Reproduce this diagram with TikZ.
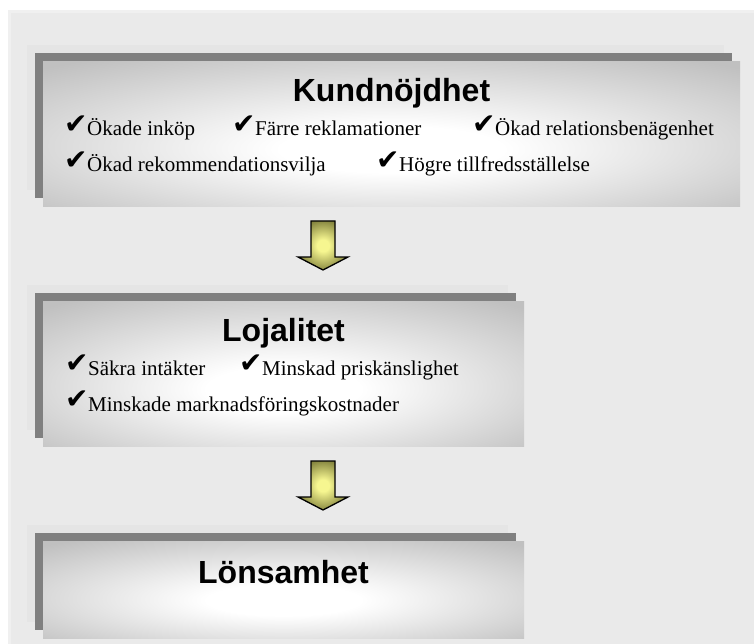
\documentclass[tikz,border=0pt]{standalone}
\usepackage{fontspec}
\setmainfont{Liberation Serif}
\newfontfamily\headfont{Liberation Sans}
\newfontfamily\symfont{DejaVu Sans}

\definecolor{bgedge}{HTML}{F0F0F0}
\definecolor{bggray}{HTML}{EAEAEA}
\definecolor{bandgray}{HTML}{E5E5E5}
\definecolor{shadowgray}{HTML}{808080}
\definecolor{boxgray}{HTML}{C0C0C0}
\definecolor{arrowlight}{HTML}{F6F690}
\definecolor{arrowdark}{HTML}{6E6E2E}

\pgfdeclareradialshading{boxglow}{\pgfpoint{0bp}{-6bp}}{color(0bp)=(white); color(8bp)=(white); color(36bp)=(boxgray); color(80bp)=(boxgray)}
\pgfdeclareradialshading{arrowglow}{\pgfpoint{0bp}{0bp}}{color(0bp)=(arrowlight); color(6bp)=(arrowlight); color(30bp)=(arrowdark); color(80bp)=(arrowdark)}

\newcommand\chkmark{\makebox[23pt][l]{\raisebox{2.5pt}{\symfont\fontsize{28}{28}\selectfont ✔}}}

\tikzset{
  boxmain/.style={rectangle, inner sep=0pt, shading=boxglow, anchor=north west},
  rubrik/.style={font=\headfont\bfseries\fontsize{32}{32}\selectfont, inner sep=0pt, anchor=base},
  punkt/.style={font=\fontsize{21}{21}\selectfont, inner sep=0pt, anchor=base west},
  blockarrow/.style={draw=black, line width=1.3pt, shading=arrowglow, line join=miter}
}

\begin{document}
\begin{tikzpicture}[x=1pt, y=-1pt]
\useasboundingbox (0,0) rectangle (754,644);
% bakgrund
\fill[white] (0,0) rectangle (754,644);
\fill[bgedge] (8,10) rectangle (754,644);
\fill[bggray] (11,13) rectangle (754,644);
% skuggor
\foreach \l/\t/\r/\b in {43/61/740/206, 43/301/524/446, 43/541/524/638}{
  \fill[bandgray] (\l-16,\t-16) rectangle (\r-16,\b-16);
  \fill[shadowgray] (\l-8,\t-8) rectangle (\r-8,\b-8);
}
% rutor
\node[boxmain, minimum width=697pt, minimum height=145pt] (kund) at (43,61) {};
\node[boxmain, minimum width=481pt, minimum height=145pt] (loj) at (43,301) {};
\node[boxmain, minimum width=481pt, minimum height=97pt] (lons) at (43,541) {};
% pilar
\coordinate (pil1) at (323,221);
\coordinate (pil2) at (323,461);
\foreach \p in {pil1, pil2}
  \draw[blockarrow] (\p) ++(-12,0) -- ++(24,0) -- ++(0,36) -- ++(13,0)
    -- ++(-25,13) -- ++(-25,-13) -- ++(13,0) -- cycle;
% Kundnöjdhet
\node[rubrik] (kund-t) at (391.5,102) {Kundnöjdhet};
\node[punkt] (k1) at (64,136) {\chkmark Ökade inköp};
\node[punkt] (k2) at (232,136) {\chkmark Färre reklamationer};
\node[punkt] (k3) at (472,136) {\chkmark Ökad relationsbenägenhet};
\node[punkt] (k4) at (64,172) {\chkmark Ökad rekommendationsvilja};
\node[punkt] (k5) at (376,172) {\chkmark Högre tillfredsställelse};
% Lojalitet
\node[rubrik] (loj-t) at (283.5,341) {Lojalitet};
\node[punkt] (l1) at (65,375) {\chkmark Säkra intäkter};
\node[punkt] (l2) at (239,375) {\chkmark Minskad priskänslighet};
\node[punkt] (l3) at (65,411) {\chkmark Minskade marknadsföringskostnader};
% Lönsamhet
\node[rubrik] (lons-t) at (283.5,583) {Lönsamhet};
\end{tikzpicture}
\end{document}
